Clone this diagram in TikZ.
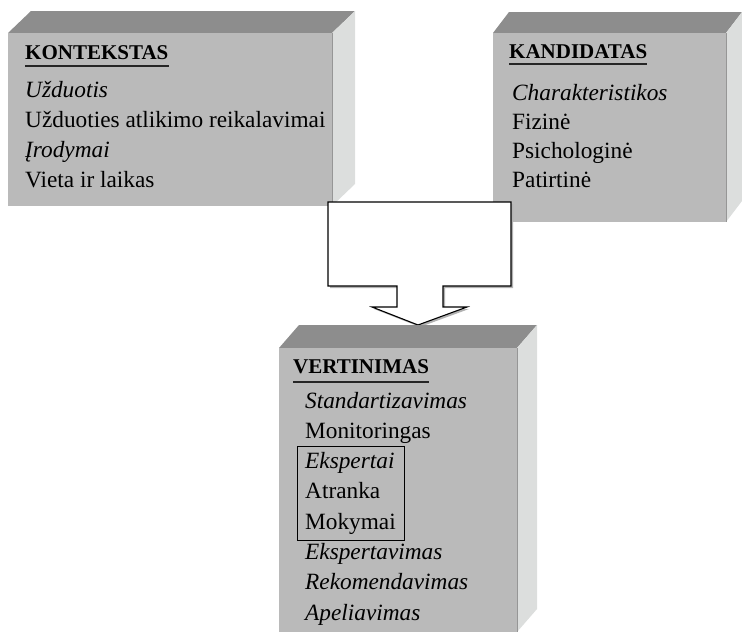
\documentclass[tikz,border=0pt]{standalone}
\usepackage{fontspec}
\setmainfont{Liberation Serif}
\usetikzlibrary{positioning}
\usetikzlibrary{fit}

\definecolor{frontgray}{RGB}{186,186,186}
\definecolor{topgray}{RGB}{141,141,141}
\definecolor{sidegray}{RGB}{220,222,221}
\definecolor{edgegray}{RGB}{150,150,150}

\begin{document}
\begin{tikzpicture}[x=1pt,y=-1pt,
  front/.style={fill=frontgray},
  topface/.style={fill=topgray},
  sideface/.style={fill=sidegray},
  heading/.style={anchor=base west,inner sep=0pt,font=\fontsize{21}{24}\selectfont\bfseries},
  item/.style={anchor=base west,inner sep=0pt,font=\fontsize{23.3}{30}\selectfont},
  uline/.style={line width=2pt,black!85}]
\useasboundingbox (0,0) rectangle (742,632);

% KONTEKSTAS
\fill[topface] (8,33) -- (31,11) -- (355,11) -- (332,33) -- cycle;
\fill[sideface] (332,33) -- (355,11) -- (355,184) -- (332,206) -- cycle;
\fill[front] (8,33) rectangle (332,206);
\draw[edgegray,thin] (332,33) -- (332,206);
\node[heading] (kontekstas) at (25,59) {KONTEKSTAS};
\draw[uline] ([yshift=-7pt]kontekstas.base west) -- ([yshift=-7pt]kontekstas.base east);
\foreach \txt [count=\i] in {{\itshape Užduotis},{Užduoties atlikimo reikalavimai},{\itshape Įrodymai},{Vieta ir laikas}}
  \node[item] (k\i) at (25,{97+30.3*(\i-1)}) {\txt};

% KANDIDATAS
\fill[topface] (493,33) -- (509,12) -- (742,12) -- (726,33) -- cycle;
\fill[sideface] (726,33) -- (742,12) -- (742,201) -- (726,222) -- cycle;
\fill[front] (493,33) rectangle (726,222);
\draw[edgegray,thin] (726,33) -- (726,222);
\node[heading] (kandidatas) at (509,58) {KANDIDATAS};
\draw[uline] ([yshift=-6pt]kandidatas.base west) -- ([yshift=-6pt]kandidatas.base east);
\foreach \txt [count=\i] in {{\itshape Charakteristikos},{Fizinė},{Psichologinė},{Patirtinė}}
  \node[item] (c\i) at (512,{100+29*(\i-1)}) {\txt};

% arrow
\fill[gray!60] (330,204) -- (513,204) -- (513,288) -- (445,288) -- (445,309) -- (469,309) -- (420,327) -- (374,309) -- (399,309) -- (399,288) -- (330,288) -- cycle;
\draw[fill=white,line width=1.1pt,line join=miter] (328,202) -- (511,202) -- (511,286) -- (443,286) -- (443,307) -- (467,307) -- (418,325) -- (372,307) -- (397,307) -- (397,286) -- (328,286) -- cycle;

% VERTINIMAS
\fill[topface] (279,348) -- (299,325) -- (537,325) -- (517,348) -- cycle;
\fill[sideface] (517,348) -- (537,325) -- (537,609) -- (517,632) -- cycle;
\fill[front] (279,348) rectangle (517,632);
\draw[edgegray,thin] (517,348) -- (517,632);
\node[heading] (vertinimas) at (293,373) {VERTINIMAS};
\draw[uline] ([yshift=-9pt]vertinimas.base west) -- ([yshift=-9pt]vertinimas.base east);
\foreach \txt [count=\i] in {{\itshape Standartizavimas},{Monitoringas},{\itshape Ekspertai},{Atranka},{Mokymai},{\itshape Ekspertavimas},{\itshape Rekomendavimas},{\itshape Apeliavimas}}
  \node[item] (v\i) at (305,{408+30.3*(\i-1)}) {\txt};
\node[draw,thin,inner xsep=8pt,inner ysep=6pt,fit=(v3)(v4)(v5)] (experts) {};
\end{tikzpicture}
\end{document}
